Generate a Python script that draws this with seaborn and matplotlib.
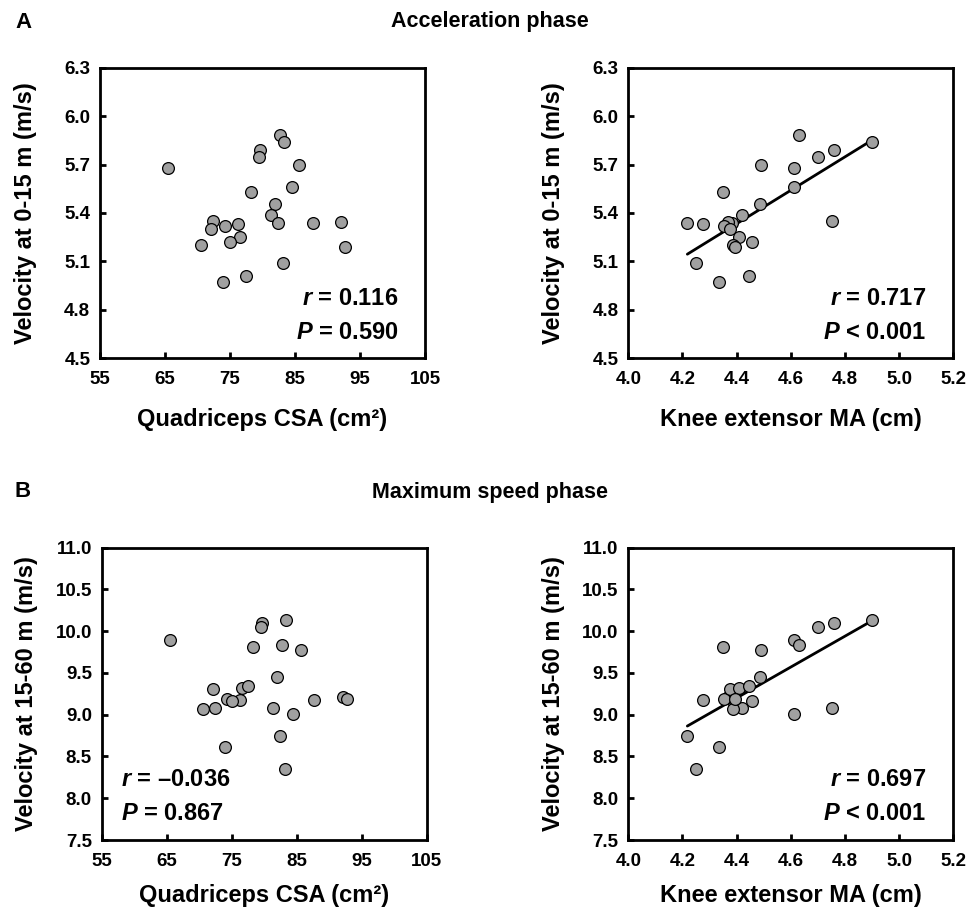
import numpy as np
import pandas as pd
import matplotlib
matplotlib.use("Agg")
import matplotlib.pyplot as plt
import seaborn as sns

# Values (one entry per athlete)
quad_csa = [65.5, 82.7, 83.3, 79.6, 79.5, 85.6, 84.5, 78.3, 81.9, 81.3, 72.4, 87.7,
            92.1, 82.4, 76.3, 74.3, 72.1, 76.6, 75.0, 70.6, 92.7, 83.2, 77.5, 73.9]
knee_ma = [4.612, 4.63, 4.90, 4.76, 4.70, 4.49, 4.612, 4.35, 4.486, 4.42, 4.752, 4.382,
           4.367, 4.218, 4.275, 4.353, 4.376, 4.41, 4.456, 4.385, 4.394, 4.249, 4.446, 4.336]
vel_0_15 = [5.68, 5.885, 5.837, 5.79, 5.745, 5.70, 5.56, 5.53, 5.455, 5.39, 5.35, 5.34,
            5.343, 5.335, 5.333, 5.32, 5.30, 5.25, 5.22, 5.20, 5.19, 5.09, 5.01, 4.97]
vel_15_60 = [9.898, 9.83, 10.138, 10.10, 10.05, 9.775, 9.007, 9.81, 9.45, 9.075, 9.08, 9.18,
             9.207, 8.747, 9.18, 9.19, 9.307, 9.32, 9.167, 9.067, 9.19, 8.35, 9.347, 8.61]

stats_text = {
    (0, 0): ("0.116", "= 0.590"),
    (0, 1): ("0.717", "< 0.001"),
    (1, 0): ("\u20130.036", "= 0.867"),
    (1, 1): ("0.697", "< 0.001"),
}

df = pd.DataFrame({"csa": quad_csa, "ma": knee_ma, "v1": vel_0_15, "v2": vel_15_60})

sns.set_theme(style="ticks")
plt.rcParams["font.family"] = ["Liberation Sans", "DejaVu Sans"]
plt.rcParams["font.weight"] = "bold"
plt.rcParams["text.color"] = "black"
plt.rcParams["axes.labelcolor"] = "black"
plt.rcParams["xtick.color"] = "black"
plt.rcParams["ytick.color"] = "black"
plt.rcParams["mathtext.fontset"] = "custom"
plt.rcParams["mathtext.it"] = "Liberation Sans:italic:bold"
plt.rcParams["mathtext.rm"] = "Liberation Sans:bold"

fig = plt.figure(figsize=(9.79, 9.10), dpi=100)
W, H = 979, 910

# axes boxes in pixels: left, right, top, bottom
boxes = {
    (0, 0): (100, 425, 67.7, 358.3),
    (0, 1): (628.3, 953.3, 67.7, 358.3),
    (1, 0): (101.7, 426.7, 547.7, 840),
    (1, 1): (628.3, 953.3, 547.7, 840),
}

xcols = ["csa", "ma"]
ycols = ["v1", "v2"]
xlabels = ["Quadriceps CSA (cm\u00b2)", "Knee extensor MA (cm)"]
ylabels = ["Velocity at 0-15 m (m/s)", "Velocity at 15-60 m (m/s)"]
xlims = [(55, 105), (4.0, 5.2)]
xticks = [np.arange(55, 106, 10), np.round(np.arange(4.0, 5.21, 0.2), 1)]
ylims = [(4.5, 6.3), (7.5, 11.0)]
yticks = [np.round(np.arange(4.5, 6.31, 0.3), 1), np.round(np.arange(7.5, 11.01, 0.5), 1)]
xlabel_y = [-0.17, -0.152]

for (r, c), (l, rt, t, b) in boxes.items():
    ax = fig.add_axes([l / W, 1 - b / H, (rt - l) / W, (b - t) / H])
    sns.scatterplot(data=df, x=xcols[c], y=ycols[r], ax=ax, s=72,
                    color="#a0a0a0", edgecolor="black", linewidth=0.9, zorder=3)
    if c == 1:
        sns.regplot(data=df, x=xcols[c], y=ycols[r], ax=ax, scatter=False, ci=None,
                    line_kws={"color": "black", "linewidth": 2}, truncate=True)
    ax.set_xlim(*xlims[c])
    ax.set_ylim(*ylims[r])
    ax.set_xticks(xticks[c])
    ax.set_yticks(yticks[r])
    ax.set_xticklabels([f"{v:g}" if c == 0 else f"{v:.1f}" for v in xticks[c]])
    ax.set_yticklabels([f"{v:.1f}" for v in yticks[r]])
    for sp in ax.spines.values():
        sp.set_visible(True)
        sp.set_linewidth(2)
        sp.set_color("black")
    ax.tick_params(direction="in", length=4.5, width=2, labelsize=13.5, colors="black")
    ax.tick_params(axis="x", pad=9)
    ax.tick_params(axis="y", pad=7)
    for lab in ax.get_xticklabels() + ax.get_yticklabels():
        lab.set_fontweight("bold")
    ax.set_xlabel(xlabels[c], fontsize=17, fontweight="bold")
    ax.set_ylabel(ylabels[r], fontsize=17, fontweight="bold")
    ax.xaxis.set_label_coords(0.5, xlabel_y[r])
    ax.yaxis.set_label_coords(-0.195, 0.5)

    rv, pv = stats_text[(r, c)]
    if (r, c) == (1, 0):
        tx, ha = 0.06, "left"
    else:
        tx, ha = 0.917, "right"
    ax.text(tx, 0.207, r"$\mathit{r}$ = " + rv, transform=ax.transAxes, ha=ha, va="center",
            fontsize=17, fontweight="bold")
    ax.text(tx, 0.09, r"$\mathit{P}$ " + pv, transform=ax.transAxes, ha=ha, va="center",
            fontsize=17, fontweight="bold")

fig.text(15 / W, 1 - 22 / H, "A", fontsize=16, fontweight="bold", ha="left", va="center")
fig.text(490 / W, 1 - 22 / H, "Acceleration phase", fontsize=15.5, fontweight="bold",
         ha="center", va="center")
fig.text(15 / W, 1 - 492 / H, "B", fontsize=16, fontweight="bold", ha="left", va="center")
fig.text(490 / W, 1 - 493 / H, "Maximum speed phase", fontsize=15.5, fontweight="bold",
         ha="center", va="center")

fig.savefig("out.png", dpi=100)
